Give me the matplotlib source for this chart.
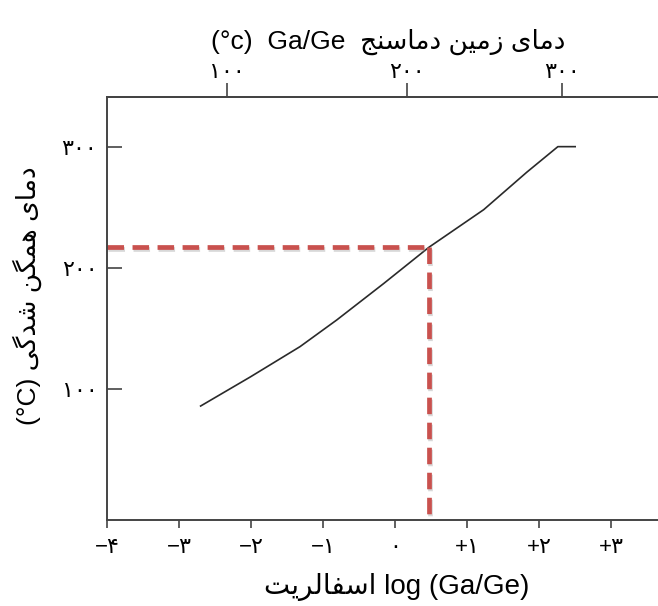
import matplotlib
matplotlib.use("Agg")
import matplotlib.pyplot as plt
import matplotlib.patheffects as pe

plt.rcParams['font.family'] = ['Liberation Sans', 'DejaVu Sans']

# sphalerite log(Ga/Ge) vs homogenization temperature
log_ratio = [-2.70, -2.01, -1.32, -0.81, -0.16, 0.47, 1.23, 1.83, 2.26, 2.50]
temp_c = [86, 110, 135, 157, 187, 217, 248, 279, 300, 300]

# example reading shown with the red dashed lines
read_log = 0.47
read_temp = 217

x_ticks = [-4, -3, -2, -1, 0, 1, 2, 3]
x_tick_labels = ["−۴", "−۳", "−۲", "−۱", "۰", "+۱", "+۲", "+۳"]
y_ticks = [100, 200, 300]
y_tick_labels = ["۱۰۰", "۲۰۰", "۳۰۰"]
# Ga/Ge geothermometer temperature on the top axis
top_tick_pos = [-2.33, 0.17, 2.32]
top_tick_labels = ["۱۰۰", "۲۰۰", "۳۰۰"]

# contextual forms (isolated, final, initial, medial) for the letters we need
FORMS = {
    "ا": ("\uFE8D", "\uFE8E", None, None),
    "د": ("\uFEA9", "\uFEAA", None, None),
    "ر": ("\uFEAD", "\uFEAE", None, None),
    "ز": ("\uFEAF", "\uFEB0", None, None),
    "م": ("\uFEE1", "\uFEE2", "\uFEE3", "\uFEE4"),
    "ی": ("\uFBFC", "\uFBFD", "\uFBFE", "\uFBFF"),
    "ن": ("\uFEE5", "\uFEE6", "\uFEE7", "\uFEE8"),
    "س": ("\uFEB1", "\uFEB2", "\uFEB3", "\uFEB4"),
    "ج": ("\uFE9D", "\uFE9E", "\uFE9F", "\uFEA0"),
    "ه": ("\uFEE9", "\uFEEA", "\uFEEB", "\uFEEC"),
    "گ": ("\uFB92", "\uFB93", "\uFB94", "\uFB95"),
    "ش": ("\uFEB5", "\uFEB6", "\uFEB7", "\uFEB8"),
    "ف": ("\uFED1", "\uFED2", "\uFED3", "\uFED4"),
    "ل": ("\uFEDD", "\uFEDE", "\uFEDF", "\uFEE0"),
    "ت": ("\uFE95", "\uFE96", "\uFE97", "\uFE98"),
}


def fa(text):
    # crude shaping + reversal since matplotlib has no RTL layout
    out = []
    for i, ch in enumerate(text):
        if ch not in FORMS:
            out.append(ch)
            continue
        iso, fin, ini, med = FORMS[ch]
        prev = text[i - 1] if i > 0 else ""
        nxt = text[i + 1] if i + 1 < len(text) else ""
        join_prev = prev in FORMS and FORMS[prev][2] is not None
        join_next = ini is not None and nxt in FORMS
        if join_prev and join_next:
            out.append(med)
        elif join_prev:
            out.append(fin)
        elif join_next:
            out.append(ini)
        else:
            out.append(iso)
    return "".join(reversed(out))


fig = plt.figure(figsize=(6.58, 6.06), dpi=100)
ax = fig.add_axes([0.1626, 0.142, 0.8374, 0.698])

ax.plot(log_ratio, temp_c, color='#2a2a2a', lw=1.2)

dash_color = '#c9514e'
shadow = [pe.SimpleLineShadow(offset=(1, -1.5), shadow_color='gray', alpha=0.3), pe.Normal()]
ax.plot([-4, read_log], [read_temp, read_temp], color=dash_color, lw=3.4,
        dashes=(3.5, 1.8), path_effects=shadow)
ax.plot([read_log, read_log], [read_temp, -8], color=dash_color, lw=3.4,
        dashes=(3.5, 1.8), path_effects=shadow)

ax.set_xlim(-4, 3.65)
ax.set_ylim(-8, 341)

ax.set_xticks(x_ticks)
ax.set_xticklabels(x_tick_labels, fontsize=16)
ax.set_yticks(y_ticks)
ax.set_yticklabels(y_tick_labels, fontsize=16)
ax.tick_params(axis='x', direction='out', length=6, width=1.2, color='#444444', pad=6)
ax.tick_params(axis='y', direction='in', length=11, width=1.2, color='#444444', pad=7)

for side in ['left', 'top', 'bottom']:
    ax.spines[side].set_color('#444444')
    ax.spines[side].set_linewidth(1.4)
ax.spines['right'].set_visible(False)

ax.set_xlabel(fa("اسفالریت") + " log (Ga/Ge)", fontsize=20)
ax.xaxis.set_label_coords(0.525, -0.125)
ax.set_ylabel("(°C) " + fa("دمای همگن شدگی"), fontsize=19)
ax.yaxis.set_label_coords(-0.118, 0.53)

top = ax.twiny()
top.set_xlim(ax.get_xlim())
top.set_xticks(top_tick_pos)
top.set_xticklabels(top_tick_labels, fontsize=16)
top.tick_params(axis='x', direction='out', length=10, width=1.2, color='#444444', pad=0)
for side in ['left', 'right', 'bottom']:
    top.spines[side].set_visible(False)
top.spines['top'].set_color('#444444')
top.spines['top'].set_linewidth(1.4)
top.set_xlabel("(°c)  Ga/Ge  " + fa("دمای زمین دماسنج"), fontsize=19)
top.xaxis.set_label_coords(0.51, 1.115)

fig.savefig("out.png", dpi=100)
